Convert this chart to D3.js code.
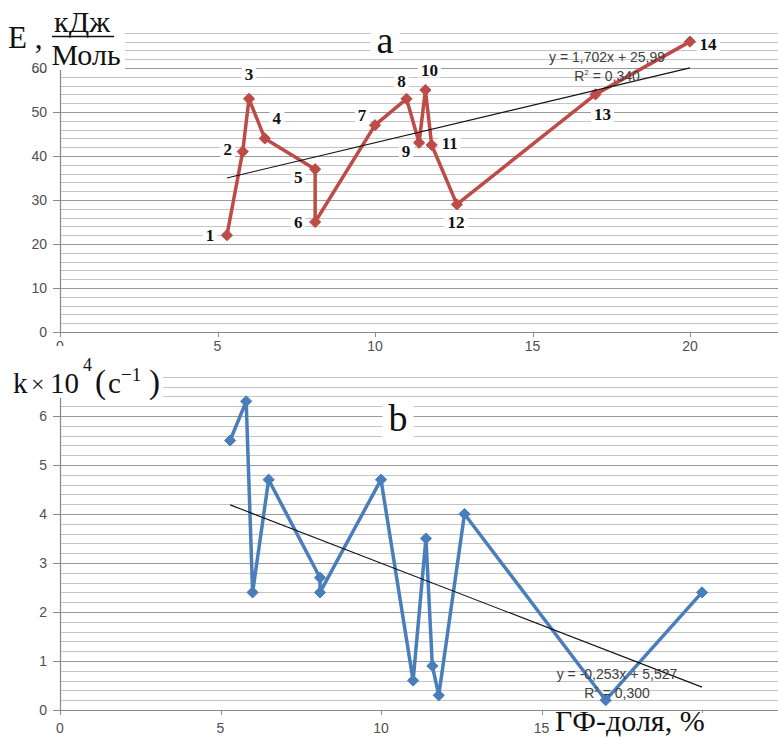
<!DOCTYPE html>
<html><head><meta charset="utf-8">
<script src="https://cdn.jsdelivr.net/npm/d3@7/dist/d3.min.js"></script>
<style>html,body{margin:0;padding:0;background:#fff;} svg{display:block;}</style>
</head><body>
<svg id="c" width="778" height="738"></svg>
<script>
// ---- data ----
const gfShare = [5.3, 5.8, 6.0, 6.5, 8.1, 8.1, 10, 11, 11.4, 11.6, 11.8, 12.6, 17, 20];
const energy = [22, 41, 53, 44, 37, 25, 47, 53, 43, 55, 42.5, 29, 54, 66];
const rateK = [5.5, 6.3, 2.4, 4.7, 2.7, 2.4, 4.7, 0.6, 3.5, 0.9, 0.3, 4.0, 0.2, 2.4];
const pointLabels = ["1","2","3","4","5","6","7","8","9","10","11","12","13","14"];
const xTicks = [0, 5, 10, 15, 20];
const xTickLabelsA = ["0", "5", "10", "15", "20"];
const xTickLabelsB = ["0", "5", "10", "15", ""];   // "20" hidden under axis title in panel b
const eTicks = [0, 10, 20, 30, 40, 50, 60];
const kTicks = [0, 1, 2, 3, 4, 5, 6];
const trendE = {slope: 1.702, intercept: 25.99, r2: "0,340", text: "y = 1,702x + 25,99"};
const trendK = {slope: -0.253, intercept: 5.527, r2: "0,300", text: "y = -0,253x + 5,527"};
const trendRange = [5.3, 20];
// label placement offsets (layout only)
const labelOffsets = [[-17,0],[-15,-2],[0,-24],[12,-20],[-17,8],[-17,0],[-13,-10],[-5,-17],[-13,9],[4,-20],[18,-2],[-1,18],[7,20],[18,3]];

const svg = d3.select("#c");
const W = 778;
const serif = "'Liberation Serif','Times New Roman',serif";
const sans = "'Liberation Sans',Arial,sans-serif";

function panel(opt){
  const g = svg.append("g");
  const x = d3.scaleLinear().domain([0,20]).range([60, opt.x20]);
  const y = d3.scaleLinear().domain([0, opt.ymax]).range([opt.y0, opt.ytop]);
  const left = 60, right = W;
  const minorVals = d3.range(0, opt.ymax + 1e-9, opt.minor).filter(v => v > 0);
  g.selectAll(".mg").data(minorVals).join("line")
    .attr("x1", left).attr("x2", right)
    .attr("y1", d => Math.round(y(d))+0.5).attr("y2", d => Math.round(y(d))+0.5)
    .attr("stroke", d => (Math.abs(d/opt.major - Math.round(d/opt.major))<1e-6) ? "#9a9a9a" : "#c4c4c4")
    .attr("stroke-width", 1.2);
  g.append("line").attr("x1", left+0.5).attr("x2", left+0.5).attr("y1", y(opt.ymax)).attr("y2", opt.y0).attr("stroke","#8a8a8a").attr("stroke-width",1.2);
  g.append("line").attr("x1", left).attr("x2", right).attr("y1", opt.y0+0.5).attr("y2", opt.y0+0.5).attr("stroke","#8a8a8a").attr("stroke-width",1.2);
  g.selectAll(".yt").data(opt.yTicks).join("line")
    .attr("x1", left-7).attr("x2", left).attr("y1", d=>Math.round(y(d))+0.5).attr("y2", d=>Math.round(y(d))+0.5)
    .attr("stroke","#8a8a8a");
  g.selectAll(".yl").data(opt.yTicks).join("text")
    .attr("x", left-13).attr("y", d=>y(d)+5).attr("text-anchor","end")
    .attr("font-family", sans).attr("font-size", 14).attr("fill","#505050")
    .text(d=>d);
  g.selectAll(".xt").data(xTicks).join("line")
    .attr("x1", d=>Math.round(x(d))+0.5).attr("x2", d=>Math.round(x(d))+0.5).attr("y1", opt.y0).attr("y2", opt.y0+5)
    .attr("stroke","#8a8a8a");
  g.selectAll(".xl").data(xTicks.map((v,i)=>[v, opt.xLabels[i]]).filter(d=>d[1] !== "")).join("text")
    .attr("x", d=>x(d[0])).attr("y", opt.y0+opt.xlab).attr("text-anchor","middle")
    .attr("font-family", sans).attr("font-size", 14).attr("fill","#505050")
    .text(d=>d[1]);
  return {g, x, y};
}

function boxText(g, txt, cx, cy, size, bold, pad){
  const t = g.append("text").attr("x", cx).attr("y", cy).attr("text-anchor","middle")
    .attr("dominant-baseline","central")
    .attr("font-family", serif).attr("font-size", size).attr("font-weight", bold?"bold":"normal")
    .attr("fill","#111").text(txt);
  const b = t.node().getBBox();
  g.insert("rect", () => t.node()).attr("x", b.x-pad).attr("y", b.y+2).attr("width", b.width+2*pad).attr("height", b.height-4).attr("fill","#fff");
  return t;
}

function series(p, vals, color, trend, labels){
  const pts = gfShare.map((v,i)=>[v, vals[i]]);
  if (labels){
    pts.forEach((d,i)=>{
      boxText(p.g, pointLabels[i], p.x(d[0])+labelOffsets[i][0], p.y(d[1])+labelOffsets[i][1], 17, true, 3);
    });
  }
  p.g.append("path").datum(pts)
    .attr("d", d3.line().x(d=>p.x(d[0])).y(d=>p.y(d[1])))
    .attr("fill","none").attr("stroke", color).attr("stroke-width", 3.5).attr("stroke-linejoin","round");
  p.g.selectAll(".m").data(pts).join("path")
    .attr("transform", d=>`translate(${p.x(d[0])},${p.y(d[1])})`)
    .attr("d", d3.symbol(d3.symbolDiamond2, 80)())
    .attr("fill", color).attr("stroke", color).attr("stroke-width",1);
  const tl = trendRange.map(v=>[v, trend.slope*v + trend.intercept]);
  p.g.append("path").datum(tl)
    .attr("d", d3.line().x(d=>p.x(d[0])).y(d=>p.y(d[1])))
    .attr("stroke","#111").attr("stroke-width",1.1).attr("fill","none");
}

const pa = panel({x20: 690, ymax: 68, y0: 332, ytop: 332-68*4.4, minor: 2, major: 10, yTicks: eTicks, xlab: 19, xLabels: xTickLabelsA});
const pb = panel({x20: 702, ymax: 6.8, y0: 710, ytop: 710-6.8*49, minor: 0.2, major: 1, yTicks: kTicks, xlab: 23, xLabels: xTickLabelsB});

boxText(pa.g, "a", 385, 40, 38, false, 6);
boxText(pb.g, "b", 398, 418, 38, false, 6);

series(pa, energy, "#BE4B48", trendE, true);
series(pb, rateK, "#4A7EBB", trendK, false);

function eq(g, tr, cx, y1){
  g.append("text").attr("x", cx).attr("y", y1).attr("text-anchor","middle")
    .attr("font-family", sans).attr("font-size", 14).attr("fill","#404040").text(tr.text);
  const t = g.append("text").attr("x", cx).attr("y", y1+19).attr("text-anchor","middle")
    .attr("font-family", sans).attr("font-size", 14).attr("fill","#404040");
  t.append("tspan").text("R");
  t.append("tspan").attr("font-size", 8).attr("dy", -6).text("2");
  t.append("tspan").attr("dy", 6).text(" = " + tr.r2);
}
eq(pa.g, trendE, 607, 62);
eq(pb.g, trendK, 617, 679);

// axis title a
svg.append("rect").attr("x",0).attr("y",0).attr("width",125).attr("height",70).attr("fill","#fff");
svg.append("text").attr("x", 8).attr("y", 48).attr("font-family", serif).attr("font-size", 31).attr("fill","#111").text("Е ,");
svg.append("text").attr("x", 82).attr("y", 32).attr("text-anchor","middle").attr("font-family", serif).attr("font-size", 30).attr("fill","#111").text("кДж");
svg.append("line").attr("x1", 52).attr("x2", 114).attr("y1", 36.5).attr("y2", 36.5).attr("stroke","#111").attr("stroke-width",1.6);
svg.append("text").attr("x", 86).attr("y", 65).attr("text-anchor","middle").attr("font-family", serif).attr("font-size", 30).attr("fill","#111").text("Моль");
svg.append("text").attr("x", 47).attr("y", pa.y(60)+5).attr("text-anchor","end").attr("font-family", sans).attr("font-size", 14).attr("fill","#505050").text("60");

// axis title b : k×10^4 (c^-1)
svg.append("rect").attr("x",0).attr("y",346).attr("width",163).attr("height",52).attr("fill","#fff");
function piece(txt, x, y, size){
  svg.append("text").attr("x", x).attr("y", y).attr("font-family", serif).attr("font-size", size).attr("fill","#111").text(txt);
}
piece("k", 13, 393, 29);
piece("×", 31, 392, 24);
piece("10", 50, 393, 29);
piece("4", 83, 371, 18);
piece("(", 95, 393, 33);
piece("c", 108, 393, 29);
piece("−1", 121, 381, 19);
piece(")", 149, 393, 33);

// x axis title
svg.append("rect").attr("x",550).attr("y",713).attr("width",228).attr("height",25).attr("fill","#fff");
svg.append("text").attr("x", 555).attr("y", 731).attr("font-family", serif).attr("font-size", 30).attr("fill","#111").text("ГФ-доля, %");
</script>
</body></html>
